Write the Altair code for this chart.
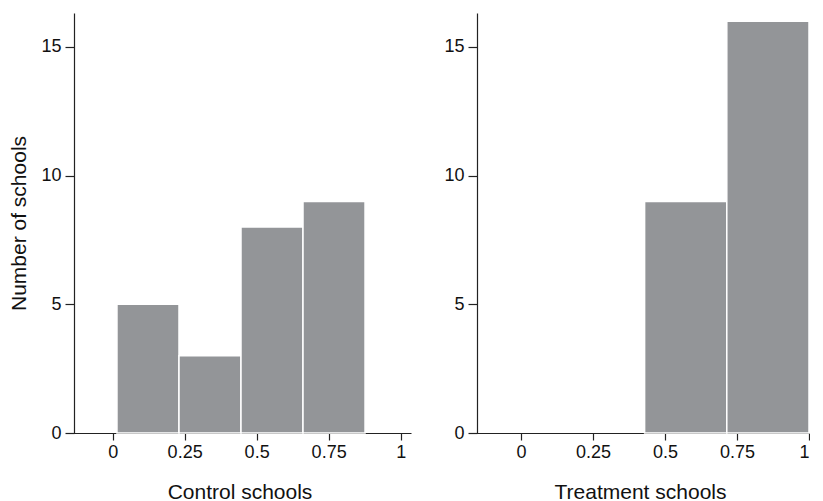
import altair as alt
import pandas as pd

# Control schools histogram
control_start = [0.015, 0.2304, 0.4457, 0.661]
control_end = [0.2304, 0.4457, 0.661, 0.8764]
control_count = [5, 3, 8, 9]

# Treatment schools histogram
treat_start = [0.429, 0.7145]
treat_end = [0.7145, 1.0]
treat_count = [9, 16]

x_ticks = [0, 0.25, 0.5, 0.75, 1]
y_ticks = [0, 5, 10, 15]

BAR = "#939598"
FONT = "Liberation Sans"

df_c = pd.DataFrame({"x0": control_start, "x1": control_end, "n": control_count})
df_t = pd.DataFrame({"x0": treat_start, "x1": treat_end, "n": treat_count})


def panel(df, title, xdom, width, show_ytitle):
    yaxis = alt.Axis(values=y_ticks, grid=False, tickSize=9, labelPadding=4,
                     title="Number of schools" if show_ytitle else "",
                     titlePadding=11, offset=-6)
    return alt.Chart(df).mark_rect(color=BAR, stroke="white", strokeWidth=1.5).encode(
        x=alt.X("x0:Q", scale=alt.Scale(domain=xdom, nice=False, zero=False),
                axis=alt.Axis(values=x_ticks, labelExpr="datum.value + ''", grid=False,
                              tickSize=7, labelPadding=3, title=title, titlePadding=20)),
        x2="x1:Q",
        y=alt.Y("n:Q", scale=alt.Scale(domain=[0, 16.32], nice=False), axis=yaxis),
        y2=alt.datum(0),
    ).properties(width=width, height=420)


left = panel(df_c, "Control schools", [-0.155, 1.036], 343, True)
right = panel(df_t, "Treatment schools", [-0.174, 1.0], 338, False)

chart = alt.hconcat(left, right, spacing=32).properties(
    padding={"left": 0, "top": 5, "right": 0, "bottom": 0}
).configure_view(stroke=None).configure_axis(
    domainColor="#222222", tickColor="#222222", domainWidth=1.2, tickWidth=1.2,
    labelFont=FONT, titleFont=FONT, labelFontSize=18, titleFontSize=21,
    labelColor="#111111", titleColor="#111111", titleFontWeight="normal",
)

chart.save("out.html", embed_options={"renderer": "svg", "actions": False})
